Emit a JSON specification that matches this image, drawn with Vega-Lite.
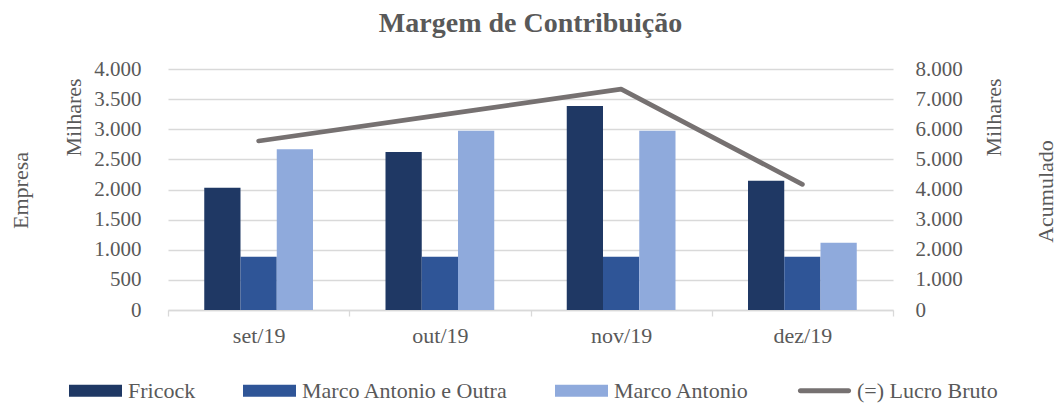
{
  "$schema": "https://vega.github.io/schema/vega-lite/v6.json",
  "autosize": {"type": "none"},
  "width": 725,
  "height": 241,
  "padding": {"left": 168, "top": 69, "right": 164, "bottom": 95},
  "background": "white",
  "config": {
    "font": "Liberation Serif",
    "locale": {"number": {"decimal": ",", "thousands": ".", "grouping": [3], "currency": ["R$", ""]}},
    "view": {"stroke": null},
    "axis": {
      "labelFont": "Liberation Serif",
      "titleFont": "Liberation Serif",
      "labelColor": "#595959",
      "titleColor": "#595959",
      "titleFontWeight": "normal",
      "labelFontSize": 21,
      "titleFontSize": 22
    },
    "legend": {
      "labelFont": "Liberation Serif",
      "labelFontSize": 22,
      "labelColor": "#595959",
      "labelLimit": 400
    }
  },
  "title": {
    "text": "Margem de Contribuição",
    "font": "Liberation Serif",
    "fontSize": 28,
    "fontWeight": "bold",
    "color": "#595959",
    "anchor": "middle",
    "offset": 20
  },
  "datasets": {
    "barras": [
      {"mes": "set/19", "serie": "Fricock", "valor": 2030},
      {"mes": "set/19", "serie": "Marco Antonio e Outra", "valor": 885},
      {"mes": "set/19", "serie": "Marco Antonio", "valor": 2667},
      {"mes": "out/19", "serie": "Fricock", "valor": 2622},
      {"mes": "out/19", "serie": "Marco Antonio e Outra", "valor": 885},
      {"mes": "out/19", "serie": "Marco Antonio", "valor": 2976},
      {"mes": "nov/19", "serie": "Fricock", "valor": 3386},
      {"mes": "nov/19", "serie": "Marco Antonio e Outra", "valor": 885},
      {"mes": "nov/19", "serie": "Marco Antonio", "valor": 2976},
      {"mes": "dez/19", "serie": "Fricock", "valor": 2146},
      {"mes": "dez/19", "serie": "Marco Antonio e Outra", "valor": 885},
      {"mes": "dez/19", "serie": "Marco Antonio", "valor": 1117}
    ],
    "lucro": [
      {"mes": "set/19", "lucro": 5610},
      {"mes": "out/19", "lucro": 6470},
      {"mes": "nov/19", "lucro": 7330},
      {"mes": "dez/19", "lucro": 4170}
    ]
  },
  "encoding": {
    "x": {
      "field": "mes",
      "type": "nominal",
      "sort": ["set/19", "out/19", "nov/19", "dez/19"],
      "scale": {"paddingInner": 0, "paddingOuter": 0},
      "axis": {
        "title": null,
        "labelAngle": 0,
        "domain": true,
        "domainColor": "#D9D9D9",
        "domainWidth": 1.3,
        "ticks": true,
        "tickBand": "extent",
        "tickColor": "#D9D9D9",
        "tickWidth": 1.3,
        "tickSize": 6,
        "labelFontSize": 22,
        "labelPadding": 9,
        "grid": false
      }
    }
  },
  "layer": [
    {
      "data": {"name": "barras"},
      "mark": {"type": "bar"},
      "encoding": {
        "xOffset": {
          "field": "serie",
          "type": "nominal",
          "sort": ["Fricock", "Marco Antonio e Outra", "Marco Antonio"],
          "scale": {"paddingInner": 0, "paddingOuter": 1.09}
        },
        "y": {
          "field": "valor",
          "type": "quantitative",
          "scale": {"domain": [0, 4000], "nice": false},
          "axis": {
            "orient": "left",
            "values": [0, 500, 1000, 1500, 2000, 2500, 3000, 3500, 4000],
            "format": ",.0f",
            "grid": true,
            "gridColor": "#D9D9D9",
            "gridWidth": 1.3,
            "domain": false,
            "ticks": false,
            "tickSize": 0,
            "labelPadding": 27,
            "title": "Milhares",
            "titleAngle": -90,
            "titleX": -88,
            "titleY": 48,
            "titleAlign": "center",
            "titleBaseline": "alphabetic"
          }
        },
        "color": {
          "field": "serie",
          "type": "nominal",
          "scale": {
            "domain": ["Fricock", "Marco Antonio e Outra", "Marco Antonio", "(=) Lucro Bruto"],
            "range": ["#1F3864", "#2F5597", "#8FAADC", "#767171"]
          },
          "legend": {
            "title": null,
            "orient": "none",
            "direction": "horizontal",
            "legendX": -99,
            "legendY": 295,
            "labelFont": "Liberation Serif",
            "labelFontSize": 22,
            "labelColor": "#595959",
            "symbolSize": 2809,
            "symbolStrokeWidth": 0,
            "labelOffset": 6,
            "columnPadding": 47,
            "labelLimit": 400,
            "encode": {
              "labels": {
                "update": {
                  "font": {"value": "Liberation Serif"}
                }
              },
              "symbols": {
                "update": {
                  "shape": {"signal": "datum.value === '(=) Lucro Bruto' ? 'M-0.91,-0.094H0.91A0.094,0.094 0 0 1 0.91,0.094H-0.91A0.094,0.094 0 0 1 -0.91,-0.094Z' : 'M-1,-0.226H1V0.226H-1Z'"},
                  "fill": {"scale": "color", "field": "value"},
                  "strokeWidth": {"value": 0},
                  "opacity": {"value": 1}
                }
              }
            }
          }
        }
      }
    },
    {
      "data": {"name": "lucro"},
      "mark": {"type": "line", "strokeWidth": 4.7, "strokeCap": "round", "strokeJoin": "round"},
      "encoding": {
        "y": {
          "field": "lucro",
          "type": "quantitative",
          "scale": {"domain": [0, 8000], "nice": false},
          "axis": {
            "orient": "right",
            "values": [0, 1000, 2000, 3000, 4000, 5000, 6000, 7000, 8000],
            "format": ",.0f",
            "grid": false,
            "domain": false,
            "ticks": false,
            "tickSize": 0,
            "labelPadding": 22,
            "title": "Milhares",
            "titleAngle": -90,
            "titleX": 107,
            "titleY": 48,
            "titleAlign": "center",
            "titleBaseline": "alphabetic"
          }
        },
        "color": {"datum": "(=) Lucro Bruto"}
      }
    },
    {
      "data": {"name": "barras"},
      "mark": {"type": "point", "opacity": 0},
      "encoding": {
        "y": {
          "field": "valor",
          "type": "quantitative",
          "scale": {"domain": [0, 4000], "nice": false},
          "axis": {
            "orient": "left",
            "labels": false,
            "ticks": false,
            "domain": false,
            "grid": false,
            "title": "Empresa",
            "titleAngle": -90,
            "titleX": -141,
            "titleY": 121,
            "titleAlign": "center",
            "titleBaseline": "alphabetic"
          }
        }
      }
    },
    {
      "data": {"name": "lucro"},
      "mark": {"type": "point", "opacity": 0},
      "encoding": {
        "y": {
          "field": "lucro",
          "type": "quantitative",
          "scale": {"domain": [0, 8000], "nice": false},
          "axis": {
            "orient": "right",
            "labels": false,
            "ticks": false,
            "domain": false,
            "grid": false,
            "title": "Acumulado",
            "titleAngle": -90,
            "titleX": 159,
            "titleY": 122,
            "titleAlign": "center",
            "titleBaseline": "alphabetic"
          }
        }
      }
    }
  ],
  "resolve": {"scale": {"y": "independent"}}
}
